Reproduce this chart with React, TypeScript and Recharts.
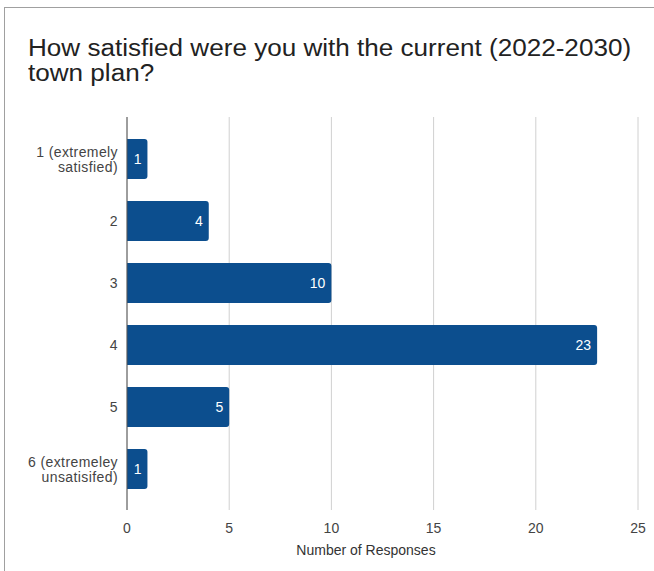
import { Bar, BarChart, CartesianGrid, LabelList, XAxis, YAxis } from 'recharts';

const categories = [
  '1 (extremely\nsatisfied)',
  '2',
  '3',
  '4',
  '5',
  '6 (extremeley\nunsatisifed)',
];
const responses = [1, 4, 10, 23, 5, 1];
const xTicks = [0, 5, 10, 15, 20, 25];

const data = categories.map((name, i) => ({ name, value: responses[i] }));

const FONT = '"Liberation Sans", Arial, sans-serif';
const BAR_COLOR = '#0c4e8e';

function CategoryTick(props: any) {
  const { x, y, payload } = props;
  const lines: string[] = String(payload.value).split('\n');
  const lineHeight = 15;
  const startDy = -((lines.length - 1) * lineHeight) / 2;
  return (
    <text x={x} y={y} textAnchor="end" fill="#444" fontSize={14} letterSpacing={0.4} fontFamily={FONT}>
      {lines.map((line, i) => (
        <tspan key={i} x={x} dy={i === 0 ? startDy + 5 : lineHeight}>
          {line}
        </tspan>
      ))}
    </text>
  );
}

export default function App() {
  return (
    <div style={{ position: 'absolute', left: 0, top: 0, width: 654, height: 571, background: '#fff' }}>
      <div
        style={{
          position: 'absolute',
          left: 4,
          top: 7,
          width: 650,
          height: 564,
          borderTop: '1px solid #a0a0a0',
          borderLeft: '1px solid #a0a0a0',
        }}
      />
      <div
        style={{
          position: 'absolute',
          left: 28,
          top: 36,
          fontFamily: FONT,
          fontSize: 23,
          lineHeight: '25px',
          color: '#222',
          whiteSpace: 'nowrap',
          transform: 'scaleX(1.134)',
          transformOrigin: 'left top',
        }}
      >
        How satisfied were you with the current (2022-2030)
        <br />
        town plan?
      </div>
      <div style={{ position: 'absolute', left: 0, top: 0 }}>
        <BarChart
          width={654}
          height={571}
          data={data}
          layout="vertical"
          margin={{ top: 117, right: 16, bottom: 0, left: 0 }}
          barSize={40}
        >
          <CartesianGrid horizontal={false} stroke="#d0d0d0" />
          <XAxis
            type="number"
            domain={[0, 25]}
            ticks={xTicks}
            axisLine={false}
            tickLine={false}
            tickMargin={7}
            height={61}
            tick={{ fill: '#444', fontSize: 14, fontFamily: FONT }}
          />
          <YAxis
            type="category"
            dataKey="name"
            width={127}
            padding={{ top: 11, bottom: 10 }}
            axisLine={{ stroke: '#555' }}
            tickLine={false}
            tickMargin={3}
            tick={<CategoryTick />}
            interval={0}
          />
          <Bar dataKey="value" fill={BAR_COLOR} radius={[0, 3, 3, 0]} isAnimationActive={false}>
            <LabelList
              dataKey="value"
              position="insideRight"
              offset={6}
              fill="#fff"
              fontSize={14}
              fontFamily={FONT}
            />
          </Bar>
        </BarChart>
      </div>
      <div
        style={{
          position: 'absolute',
          left: 266,
          width: 200,
          top: 542,
          textAlign: 'center',
          fontFamily: FONT,
          fontSize: 14,
          color: '#333',
        }}
      >
        Number of Responses
      </div>
    </div>
  );
}
